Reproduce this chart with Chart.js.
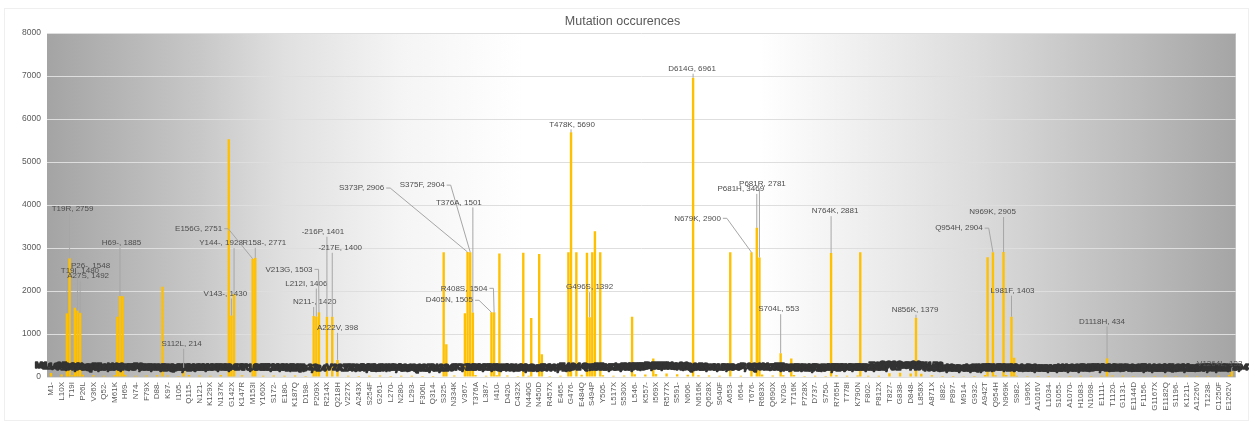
<!DOCTYPE html>
<html>
<head>
<meta charset="utf-8">
<script src="https://cdn.jsdelivr.net/npm/chart.js@4"></script>
<style>
  html, body { margin: 0; padding: 0; background: #fff; }
  canvas { display: block; }
</style>
</head>
<body>
<canvas id="chart" width="1249" height="421"></canvas>
<script>
// one axis label every STEP categories, starting at category 1
const STEP = 4;
const CATEGORY_COUNT = 448;

const tickLabels = [
  'M1-', 'L10X', 'T19I', 'P26L', 'V36X', 'Q52-', 'M61K', 'H69-', 'N74-', 'F79X',
  'D88-', 'K97-', 'I105-', 'Q115-', 'N121-', 'K129X', 'N137K', 'G142X', 'K147R', 'M153I',
  'Y160X', 'S172-', 'E180-', 'K187Q', 'D198-', 'P209X', 'R214X', 'Q218H', 'V227X', 'A243X',
  'S254F', 'G261-', 'L270-', 'N280-', 'L293-', 'F306L', 'Q314-', 'S325-', 'N334K', 'V367-',
  'T376A', 'L387-', 'I410-', 'D420-', 'C432X', 'N440G', 'N450D', 'R457X', 'E465-', 'G476-',
  'E484Q', 'S494P', 'Y505-', 'L517X', 'S530X', 'L546-', 'K557-', 'I569X', 'R577X', 'S591-',
  'N606-', 'N616K', 'Q628X', 'S640F', 'A653-', 'I664-', 'T676-', 'R683X', 'Q690X', 'N703-',
  'T716K', 'P728X', 'D737-', 'S750-', 'R765H', 'T778I', 'K790N', 'F802-', 'P812X', 'T827-',
  'G838-', 'D848-', 'L858X', 'A871X', 'I882-', 'P897-', 'M914-', 'G932-', 'A942T', 'Q954H',
  'N969K', 'S982-', 'L996X', 'A1016V', 'L1034-', 'S1055-', 'A1070-', 'H1083-', 'N1098-', 'E1111-',
  'T1120-', 'G1131-', 'E1144D', 'F1156-', 'G1167X', 'E1182Q', 'S1196-', 'K1211-', 'A1226V', 'T1238-',
  'C1250F', 'E1262V'
];

// counts of the labelled (mostly rare) mutations
const tickCounts = [
  95, 60, 42, 55, 38, 30, 45, 52, 28, 35,
  40, 33, 26, 48, 36, 30, 44, 62, 38, 41,
  29, 35, 27, 32, 24, 58, 46, 61, 31, 22,
  28, 34, 25, 30, 27, 21, 26, 44, 35, 52,
  47, 30, 38, 33, 25, 29, 37, 26, 31, 48,
  55, 42, 39, 28, 33, 64, 58, 72, 80, 66,
  53, 41, 35, 30, 36, 27, 45, 57, 33, 40,
  49, 26, 30, 24, 38, 29, 34, 27, 31, 88,
  96, 84, 78, 40, 25, 22, 19, 24, 48, 39,
  44, 30, 26, 21, 25, 19, 23, 28, 22, 30,
  36, 27, 24, 20, 26, 31, 22, 27, 25, 21,
  29, 47
];

// frequent mutations that carry a callout
const calloutNames = [
  'T19I', 'T19R', 'P26-', 'A27S', 'H69-', 'S112L', 'V143-', 'Y144-', 'E156G', 'R158-',
  'N211-', 'L212I', 'V213G', '-216P', '-217E', 'A222V', 'S373P', 'S375F', 'T376A', 'D405N',
  'R408S', 'T478K', 'G496S', 'D614G', 'N679K', 'P681H', 'P681R', 'S704L', 'N764K', 'N856K',
  'Q954H', 'N969K', 'L981F', 'D1118H', 'V1264L'
];
const calloutAt = [
  7, 8, 11, 12, 27, 51, 69, 70, 77, 78,
  100, 101, 102, 105, 107, 109, 158, 159, 160, 167,
  168, 197, 204, 243, 265, 267, 268, 276, 295, 327,
  356, 360, 363, 399, 446
];
const calloutCounts = [
  1480, 2759, 1548, 1492, 1885, 214, 1430, 1928, 2751, 2771,
  1420, 1406, 1503, 1401, 1400, 398, 2906, 2904, 1501, 1505,
  1504, 5690, 1392, 6961, 2900, 3469, 2781, 553, 2881, 1379,
  2904, 2905, 1403, 434, 132
];

// frequent mutations without a visible callout
const otherAt = [
  10, 26, 28, 43, 68, 149, 150, 157, 170, 179,
  182, 185, 186, 196, 199, 203, 205, 206, 208, 220,
  228, 257, 280, 306, 354, 364
];
const otherCounts = [
  1610, 1400, 1880, 2100, 5530, 2900, 760, 1480, 2870, 2890,
  1370, 2860, 530, 2900, 2900, 2890, 2900, 3390, 2900, 1400,
  430, 2900, 430, 2900, 2784, 450
];

// where each callout text sits, relative to the top of its bar (px)
const calloutOffsets = [
  [13, -43], [3, -50], [13, -45], [8, -37], [1.5, -53], [-2, -24], [-6, -22], [-13, -51], [-54, -30], [9, -15],
  [1, -14], [-10, -33], [-30, -43], [-4, -85], [8, -69], [0, -32], [-106, -64], [-48, -67], [-14, -110], [-42, -12],
  [-30, -24], [1, -8], [0, -30], [-1, -9], [-54, -34], [-16, -39], [3, -74], [-2, -44], [4, -42], [-1, -8],
  [-34, -24], [-11, -40], [1, -26], [-5, -37], [-12, -8]
];

const FONT_FAMILY = '"Liberation Sans Narrow", "Liberation Sans", Arial, sans-serif';

const labels = new Array(CATEGORY_COUNT).fill('');
const counts = new Array(CATEGORY_COUNT).fill(null);
tickLabels.forEach((name, j) => {
  labels[j * STEP + 1] = name;
  counts[j * STEP + 1] = tickCounts[j];
});
const taken = new Set();
otherAt.forEach((i, k) => { counts[i] = otherCounts[k]; taken.add(i); });
calloutAt.forEach((i, k) => { counts[i] = calloutCounts[k]; taken.add(i); });

const labelsPlugin = {
  id: 'labelsPlugin',
  beforeDraw(chart) {
    const { ctx, chartArea: a } = chart;
    ctx.save();
    ctx.strokeStyle = '#efefef';
    ctx.strokeRect(4.5, 8.5, chart.width - 5, chart.height - 9);
    const g = ctx.createLinearGradient(a.left, 0, a.right, 0);
    g.addColorStop(0, '#a4a4a4');
    g.addColorStop(0.13, '#c8c8c8');
    g.addColorStop(0.2, '#e0e0e0');
    g.addColorStop(0.3, '#f5f5f5');
    g.addColorStop(0.4, '#ffffff');
    g.addColorStop(0.6, '#ffffff');
    g.addColorStop(0.7, '#ececec');
    g.addColorStop(0.78, '#dcdcdc');
    g.addColorStop(0.85, '#cbcbcb');
    g.addColorStop(0.92, '#bababa');
    g.addColorStop(1, '#a5a5a5');
    ctx.fillStyle = g;
    ctx.fillRect(a.left, a.top, a.right - a.left, a.bottom - a.top);
    ctx.restore();
  },
  afterDatasetsDraw(chart) {
    const ctx = chart.ctx;
    const bars = chart.getDatasetMeta(0).data;
    ctx.save();
    ctx.textAlign = 'center';
    ctx.textBaseline = 'middle';

    // data labels of the small bars pile up along the baseline
    ctx.font = 'bold 9.5px ' + FONT_FAMILY;
    ctx.fillStyle = '#333333';
    ctx.strokeStyle = '#333333';
    ctx.lineWidth = 1.6;
    ctx.lineJoin = 'round';
    tickLabels.forEach((name, j) => {
      const i = j * STEP + 1;
      if (taken.has(i)) return;
      const b = bars[i];
      const text = name + ', ' + tickCounts[j];
      ctx.strokeText(text, b.x, b.y - 8);
      ctx.fillText(text, b.x, b.y - 8);
    });

    // callouts with leader lines
    ctx.font = '8px ' + FONT_FAMILY;
    ctx.strokeStyle = '#a6a6a6';
    ctx.lineWidth = 1;
    calloutNames.forEach((name, k) => {
      const b = bars[calloutAt[k]];
      const text = name + ', ' + calloutCounts[k];
      const tx = b.x + calloutOffsets[k][0];
      const ty = b.y + calloutOffsets[k][1];
      const w = ctx.measureText(text).width;
      const left = tx - w / 2, right = tx + w / 2;
      ctx.beginPath();
      if (b.x > right + 2) {
        ctx.moveTo(right + 2, ty);
        ctx.lineTo(right + 6, ty);
        ctx.lineTo(b.x, b.y);
      } else if (b.x < left - 2) {
        ctx.moveTo(left - 2, ty);
        ctx.lineTo(left - 6, ty);
        ctx.lineTo(b.x, b.y);
      } else if (b.y - (ty + 5) > 2) {
        ctx.moveTo(b.x, ty + 5);
        ctx.lineTo(b.x, b.y);
      }
      ctx.stroke();
      ctx.fillStyle = '#4d4d4d';
      ctx.fillText(text, tx, ty);
    });
    ctx.restore();
  }
};

new Chart(document.getElementById('chart'), {
  type: 'bar',
  data: {
    labels: labels,
    datasets: [{
      data: counts,
      backgroundColor: '#FFC000',
      barPercentage: 0.9,
      categoryPercentage: 1
    }]
  },
  options: {
    responsive: false,
    animation: false,
    layout: { padding: { left: 0, right: 4, top: 0, bottom: 0 } },
    plugins: {
      legend: { display: false },
      tooltip: { enabled: false },
      title: {
        display: true,
        text: 'Mutation occurences',
        color: '#595959',
        font: { family: '"Liberation Sans", Arial, sans-serif', size: 12.5, weight: 'normal' },
        padding: { top: 14, bottom: 4 }
      }
    },
    scales: {
      x: {
        grid: { display: false, drawTicks: false },
        border: { display: false },
        ticks: {
          autoSkip: false,
          minRotation: 90,
          maxRotation: 90,
          padding: 5,
          color: '#595959',
          font: { family: FONT_FAMILY, size: 8 }
        },
        afterFit(scale) { scale.height = 44; }
      },
      y: {
        min: 0,
        max: 8000,
        ticks: {
          stepSize: 1000,
          color: '#595959',
          padding: 6,
          font: { family: FONT_FAMILY, size: 8.5 },
          callback: (value) => String(value)
        },
        grid: { color: '#dedede', drawTicks: false },
        border: { display: false },
        afterFit(scale) { scale.width = 47; }
      }
    }
  },
  plugins: [labelsPlugin]
});
</script>
</body>
</html>
